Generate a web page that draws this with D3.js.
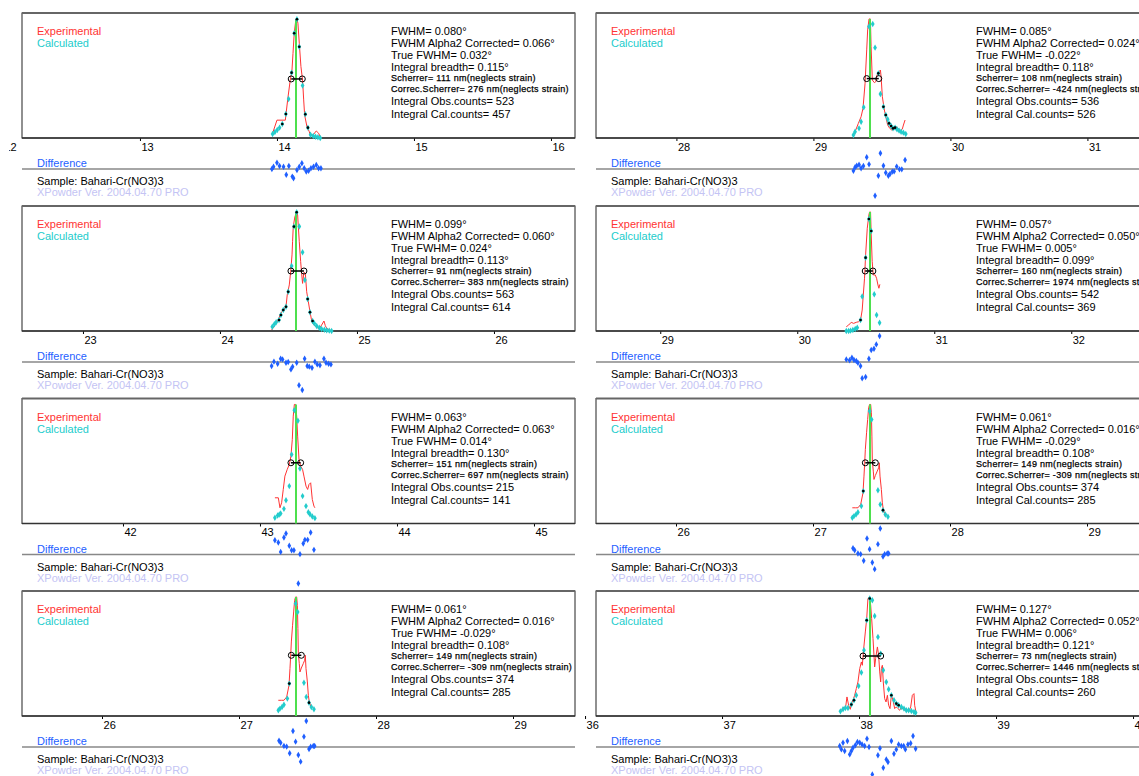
<!DOCTYPE html>
<html>
<head>
<meta charset="utf-8">
<script src="https://cdn.jsdelivr.net/npm/d3@7"></script>
<style>
  body { margin: 0; background: #fff; }
  svg { display: block; font-family: "Liberation Sans", Arial, sans-serif; }
</style>
</head>
<body>
<svg id="chart" width="1139" height="776"></svg>
<script>
// ---- data: [2theta, relative intensity %] ----
const exp14 = [[13.968,3.9],[14.000,15],[14.061,15],[14.078,32],[14.097,48.7],[14.109,55.7],[14.117,71],[14.126,88],[14.136,97.7],[14.146,100],[14.153,96.4],[14.163,79.6],[14.175,60],[14.187,48.7],[14.195,32],[14.202,19.3],[14.219,9.5],[14.236,5.3],[14.243,2.5],[14.263,2.5],[14.287,5.9],[14.304,4],[14.316,1.1]];
const cal14 = [[13.968,3.4],[13.985,5.0],[14.002,6.7],[14.019,8.7],[14.039,11.8],[14.065,20.2],[14.085,32.8],[14.107,54.9],[14.126,88],[14.146,99.7],[14.163,76.7],[14.187,44],[14.207,19.9],[14.226,8.7],[14.245,2.8],[14.265,1.7],[14.282,1.1],[14.299,0.6],[14.316,0]];
const dif14 = [[13.963,0],[13.975,1.9],[14.000,5.3],[14.019,2.5],[14.048,1.9],[14.068,-4.8],[14.087,2.5],[14.112,-6.4],[14.121,-7.8],[14.146,-0.8],[14.163,1.9],[14.182,4.8],[14.199,0.6],[14.214,-2.2],[14.231,-1.4],[14.248,0.6],[14.267,1.9],[14.287,3.4],[14.304,0.6],[14.321,0.6]];

const exp29 = [[29.292,2.5],[29.309,6.7],[29.328,12.3],[29.348,17.9],[29.362,24.9],[29.377,46],[29.389,74],[29.396,90.8],[29.406,100],[29.416,100],[29.421,76.7],[29.430,48.7],[29.445,46.5],[29.455,47.3],[29.464,52.9],[29.479,55.7],[29.489,57.1],[29.494,51.5],[29.503,34.7],[29.518,23.5],[29.528,17.9],[29.542,10.9],[29.557,8.1],[29.572,6.7],[29.591,7.3],[29.606,9.5],[29.620,7.6],[29.637,6.2],[29.649,7.6],[29.657,10.9],[29.669,15.1]];
const cal29 = [[29.292,2.5],[29.304,5.3],[29.333,8.1],[29.348,13.7],[29.367,25.8],[29.406,93.6],[29.433,95.8],[29.450,75.9],[29.474,54.3],[29.489,37],[29.511,26.3],[29.528,19.3],[29.542,15.7],[29.552,12.3],[29.567,10.1],[29.581,8.1],[29.596,8.7],[29.610,7.3],[29.625,6.2],[29.640,5.3],[29.657,4.5],[29.674,3.4]];
const dif29 = [[29.292,-1.4],[29.304,1.4],[29.316,2.8],[29.333,3.6],[29.348,0.6],[29.365,2.5],[29.389,9.8],[29.406,3.9],[29.450,-22.4],[29.474,-5.6],[29.489,13.2],[29.511,2.8],[29.528,-3.1],[29.547,-5.6],[29.559,-4.2],[29.576,-2.2],[29.589,-2.0],[29.608,2.0],[29.628,-0.3],[29.645,-0.3],[29.669,7.6]];

const exp24 = [[24.377,0.8],[24.401,5],[24.426,9.2],[24.443,14.8],[24.462,17.6],[24.482,20.4],[24.491,30.3],[24.506,38.7],[24.516,49.9],[24.526,63.9],[24.530,75],[24.535,87.7],[24.547,96],[24.560,100],[24.567,97.5],[24.572,87.7],[24.579,75],[24.589,58.3],[24.596,48.5],[24.603,40],[24.613,49.3],[24.623,48.5],[24.633,33],[24.645,24.6],[24.657,16.2],[24.667,10.1],[24.676,6.4],[24.693,4.5],[24.710,2.8],[24.725,2.2],[24.742,5],[24.759,8.4],[24.769,4.5],[24.779,2.2],[24.803,0.8],[24.815,0]];
const cal24 = [[24.382,3.6],[24.397,5.6],[24.410,7.3],[24.431,9.2],[24.445,13.4],[24.462,17.6],[24.482,20.4],[24.498,33],[24.523,54.6],[24.540,87.7],[24.560,99.7],[24.579,87.7],[24.603,66.1],[24.620,42.9],[24.640,26.9],[24.657,15.7],[24.676,8.4],[24.689,6.4],[24.706,4.2],[24.725,2.8],[24.742,1.7],[24.762,1.1],[24.779,0.6],[24.798,0.3],[24.815,0]];
const dif24 = [[24.377,-3.4],[24.394,0.3],[24.421,-1.4],[24.443,2.8],[24.457,2.2],[24.482,-0.6],[24.498,0],[24.518,-6.2],[24.530,-3.9],[24.560,-0.6],[24.577,-19.6],[24.601,-23.5],[24.618,2.8],[24.637,-3.4],[24.652,-3.9],[24.672,-4.8],[24.693,0.3],[24.710,-2],[24.730,-2.8],[24.759,2.8],[24.774,-0.6],[24.793,-1.4],[24.810,-2]];

const exp30 = [[30.358,3.6],[30.375,5],[30.394,7.3],[30.411,6.4],[30.431,7.3],[30.448,7.8],[30.462,9.2],[30.474,17.6],[30.482,30.3],[30.491,44.3],[30.499,63.9],[30.511,86.3],[30.523,97.5],[30.528,100],[30.535,100],[30.540,80.7],[30.547,58.3],[30.555,47.1],[30.569,47.1],[30.579,44.3],[30.589,38.7],[30.596,35.9],[30.603,39.2]];
const cal30 = [[30.358,0],[30.375,0],[30.389,0.3],[30.406,0.8],[30.423,1.7],[30.438,2.8],[30.462,9.2],[30.474,28.9],[30.499,61.6],[30.523,94.1],[30.540,84],[30.562,30.8],[30.579,13.4],[30.601,7]];
const dif30 = [[30.358,2.2],[30.382,1.4],[30.399,3.6],[30.414,1.7],[30.431,0.8],[30.443,-0.6],[30.462,-3.4],[30.474,-13.7],[30.499,-12.6],[30.523,2.8],[30.540,10.1],[30.560,11.2],[30.577,14.8],[30.601,21.8]];

const exp43 = [[43.109,21.6],[43.134,21.6],[43.146,13.2],[43.158,17.4],[43.170,28.6],[43.182,39.8],[43.199,45.4],[43.214,49.6],[43.226,56.6],[43.236,70.6],[43.243,90.2],[43.251,100],[43.260,100],[43.268,90.2],[43.275,73.4],[43.285,53.8],[43.297,48.2],[43.311,45.4],[43.321,39.8],[43.336,31.4],[43.348,28.6],[43.358,32.8],[43.370,34.2],[43.382,20.2],[43.394,14.6],[43.401,13.2]];
const cal43 = [[43.109,4.8],[43.129,6.7],[43.141,7.6],[43.151,8.4],[43.175,12.3],[43.190,19.6],[43.214,31.4],[43.231,58],[43.251,95.2],[43.277,86.3],[43.292,46.2],[43.311,23],[43.336,14.6],[43.353,9.5],[43.365,7.8],[43.382,5.9],[43.401,4.5]];
const dif43 = [[43.109,12],[43.134,10.1],[43.151,2.2],[43.175,14.3],[43.190,17.6],[43.214,7.3],[43.231,3.6],[43.248,3.6],[43.280,-24.4],[43.292,0.3],[43.316,9.2],[43.328,12.3],[43.348,12.3],[43.370,18.5],[43.394,3.9]];

const exp27 = [[27.287,13.2],[27.309,13.2],[27.328,13.2],[27.348,16],[27.365,25.8],[27.372,39.8],[27.377,50.4],[27.382,62.2],[27.391,76.2],[27.399,87.4],[27.406,97.2],[27.413,100],[27.421,100],[27.426,93],[27.430,73.4],[27.433,52.4],[27.440,44],[27.445,37],[27.455,40.3],[27.469,44],[27.479,46.8],[27.484,51],[27.489,39.8],[27.499,28.6],[27.506,17.4],[27.513,11.8],[27.523,8.4],[27.535,6.7]];
const cal27 = [[27.287,4.8],[27.299,6.2],[27.314,7.6],[27.328,9.5],[27.353,14.6],[27.367,27.2],[27.413,94.4],[27.428,87.4],[27.474,28],[27.491,16],[27.511,11.2],[27.528,7.6],[27.547,5.6]];
const dif27 = [[27.292,5.3],[27.304,3.6],[27.328,0.8],[27.348,0.3],[27.370,-5.3],[27.394,13.4],[27.413,4.5],[27.433,-6.7],[27.450,-12.3],[27.474,8.7],[27.491,21.8],[27.511,-1.7],[27.523,0.3],[27.542,0.8],[27.552,0.8]];

const exp38 = [[37.859,3.4],[37.876,5.6],[37.890,7.6],[37.900,5.6],[37.912,16],[37.924,9],[37.936,5.6],[37.944,10.4],[37.956,13.2],[37.968,17.4],[37.980,23],[37.992,28.6],[38.005,39.8],[38.017,45.4],[38.024,42.6],[38.034,56.6],[38.046,70.6],[38.056,81.8],[38.065,98.7],[38.078,100],[38.085,93],[38.092,81.8],[38.102,65],[38.114,41.2],[38.121,48.2],[38.134,58],[38.143,51],[38.151,37],[38.158,28.6],[38.163,39.8],[38.170,42.6],[38.177,28.6],[38.187,14.6],[38.197,11.8],[38.207,17.4],[38.216,9],[38.226,6.2],[38.236,17.4],[38.248,13.2],[38.260,6.2],[38.272,7.6],[38.284,6.2],[38.297,4.8],[38.309,7.6],[38.328,4.8],[38.345,6.2],[38.362,3.4],[38.377,7.6],[38.389,17.4],[38.401,18.8],[38.406,9],[38.418,2]];
const cal38 = [[37.864,3.9],[37.883,5.6],[37.900,6.7],[37.919,6.7],[37.944,9.6],[37.963,13.2],[37.980,17.4],[37.997,25.2],[38.017,36.5],[38.036,55.2],[38.056,80.4],[38.078,98.7],[38.097,97.2],[38.114,84],[38.138,66.4],[38.158,52.4],[38.177,38.4],[38.199,28.6],[38.216,22.4],[38.236,17.4],[38.255,13.2],[38.272,10.4],[38.289,9],[38.309,7.6],[38.328,6.2],[38.345,4.8],[38.362,4.8],[38.382,4.2],[38.401,3.4],[38.413,2.8]];
const dif38 = [[37.859,0.8],[37.871,-2],[37.883,3.6],[37.895,-3.4],[37.915,5],[37.932,-6.2],[37.944,-3.4],[37.956,-0.6],[37.973,1.4],[37.988,4.2],[38.005,3.6],[38.022,2.2],[38.041,0.8],[38.058,7],[38.073,0],[38.097,-23],[38.138,-7],[38.153,-1.1],[38.177,-17.4],[38.199,-10.4],[38.211,-12.6],[38.236,5],[38.255,-5.6],[38.272,-2],[38.289,2.2],[38.309,0.8],[38.326,0.8],[38.338,-2],[38.357,2.2],[38.377,3.1],[38.394,9.2],[38.413,-1.4]];

// one entry per peak (same order as the arrays below)
const expData = [exp14, exp29, exp24, exp30, exp43, exp27, exp38];
const calData = [cal14, cal29, cal24, cal30, cal43, cal27, cal38];
const difData = [dif14, dif29, dif24, dif30, dif43, dif27, dif38];
const peakPos = [14.139, 29.413, 24.555, 30.531, 43.263, 27.416, 38.080];
const halfLeft = [14.104, 29.389, 24.518, 30.496, 43.226, 27.382, 38.029];
const halfRight = [14.185, 29.477, 24.613, 30.552, 43.297, 27.455, 38.158];
const halfInt = [49.6, 49.9, 50.4, 50.4, 51, 51, 50.4];

const fwhm = ["0.080", "0.085", "0.099", "0.057", "0.063", "0.061", "0.127"];
const fwhmA2 = ["0.066", "0.024", "0.060", "0.050", "0.063", "0.016", "0.052"];
const trueFwhm = ["0.032", "-0.022", "0.024", "0.005", "0.014", "-0.029", "0.006"];
const breadth = ["0.115", "0.118", "0.113", "0.099", "0.130", "0.108", "0.121"];
const scherrer = ["111", "108", "91", "160", "151", "149", "73"];
const corrScherrer = ["276", "-424", "383", "1974", "697", "-309", "1446"];
const obsCounts = ["523", "536", "563", "542", "215", "374", "188"];
const calCounts = ["457", "526", "614", "369", "141", "285", "260"];

const sampleName = "Sample: Bahari-Cr(NO3)3";
const version = "XPowder Ver. 2004.04.70 PRO";

// panel grid: which peak goes in which cell
const panelPeak = [0, 1, 2, 3, 4, 5, 5, 6];

// ---- layout ----
const svg = d3.select("#chart");
const colLeft = [22, 596];
const plotW = 548;          // 4 degrees wide
const boxW = [553, 560];
const textOff = [369, 380];
const boxH = 125;
const rowBottom = [138, 331, 523.5, 716];

const red = "#ff3333", cyan = "#22cccc", green = "#4ee04e", blue = "#1f5fff";

// tick labels to the left of a box are cut by the window edge
svg.append("clipPath").attr("id", "edge").append("rect")
  .attr("x", 9).attr("y", 0).attr("width", 1139).attr("height", 776);

panelPeak.forEach((k, i) => {
  const col = i % 2, row = Math.floor(i / 2);
  const x0 = colLeft[col], bottom = rowBottom[row], top = bottom - boxH;
  const g = svg.append("g");

  const x = d3.scaleLinear().domain([peakPos[k] - 2, peakPos[k] + 2]).range([x0, x0 + plotW]);
  const y = d3.scaleLinear().domain([0, 105]).range([bottom, top]);
  const diffBase = bottom + 31;
  const yd = d3.scaleLinear().domain([0, 105]).range([diffBase, diffBase - boxH]);

  // frame
  g.append("rect").attr("x", x0).attr("y", top).attr("width", boxW[col]).attr("height", boxH)
    .attr("fill", "none").attr("stroke", "#222").attr("stroke-width", 1);
  g.append("line").attr("x1", x0).attr("x2", x0 + boxW[col]).attr("y1", top).attr("y2", top)
    .attr("stroke", "#666").attr("stroke-width", 2);

  // axis
  const lo = Math.ceil(peakPos[k] - 2.2), hi = Math.floor(peakPos[k] + 2);
  const axis = d3.axisBottom(x).tickValues(d3.range(lo, hi + 1)).tickSize(3).tickFormat(d3.format("d"));
  const ax = g.append("g").attr("transform", `translate(0,${bottom})`).attr("clip-path", "url(#edge)").call(axis);
  ax.select(".domain").remove();
  ax.selectAll("text").attr("text-anchor", "start").attr("x", 1).attr("y", 5)
    .attr("font-size", 11).attr("font-family", "Liberation Sans, Arial, sans-serif").attr("fill", "#000");
  ax.selectAll("line").attr("stroke", "#000");
  g.append("line").attr("x1", x0).attr("x2", x0 + boxW[col]).attr("y1", bottom).attr("y2", bottom)
    .attr("stroke", "#333").attr("stroke-width", 1.5);

  // legend
  g.append("text").attr("x", x0 + 15).attr("y", top + 22).attr("font-size", 11).attr("fill", red).text("Experimental");
  g.append("text").attr("x", x0 + 15).attr("y", top + 34).attr("font-size", 11).attr("fill", cyan).text("Calculated");

  // stats
  const lines = [
    ["FWHM= " + fwhm[k] + "°", 11, 22],
    ["FWHM Alpha2 Corrected= " + fwhmA2[k] + "°", 11, 34],
    ["True FWHM= " + trueFwhm[k] + "°", 11, 46],
    ["Integral breadth= " + breadth[k] + "°", 11, 58],
    ["Scherrer= " + scherrer[k] + " nm(neglects strain)", 9, 68],
    ["Correc.Scherrer= " + corrScherrer[k] + " nm(neglects strain)", 9, 79],
    ["Integral Obs.counts= " + obsCounts[k], 11, 92],
    ["Integral Cal.counts= " + calCounts[k], 11, 105]
  ];
  lines.forEach(l => {
    const small = l[1] < 10;
    g.append("text").attr("x", x0 + textOff[col]).attr("y", top + l[2])
      .attr("font-size", l[1]).attr("letter-spacing", small ? 0.3 : 0)
      .attr("stroke", small ? "#000" : "none").attr("stroke-width", 0.25)
      .attr("fill", "#000").text(l[0]);
  });

  // experimental profile
  g.append("path").datum(expData[k])
    .attr("d", d3.line().x(d => x(d[0])).y(d => y(d[1])))
    .attr("fill", "none").attr("stroke", red).attr("stroke-width", 1);

  // peak position
  g.append("line").attr("x1", x(peakPos[k])).attr("x2", x(peakPos[k]))
    .attr("y1", y(0)).attr("y2", y(d3.max(expData[k], d => d[1])))
    .attr("stroke", green).attr("stroke-width", 2);

  // calculated points
  const diamond = d3.symbol().type(d3.symbolDiamond).size(12);
  g.selectAll(".cal").data(calData[k]).join("path")
    .attr("transform", d => `translate(${x(d[0])},${y(d[1])})`)
    .attr("d", diamond).attr("fill", cyan);

  // black marks where calculated sits on the observed profile
  const bis = d3.bisector(d => d[0]).left;
  const obsAt = t => {
    const e = expData[k], j = Math.max(1, Math.min(e.length - 1, bis(e, t)));
    const a = e[j - 1], b = e[j];
    return a[1] + (b[1] - a[1]) * (t - a[0]) / (b[0] - a[0]);
  };
  g.selectAll(".hit").data(calData[k].filter(d => d[0] >= expData[k][0][0] && d[0] <= expData[k][expData[k].length - 1][0] && Math.abs(obsAt(d[0]) - d[1]) < 3.5 && d[1] > 8))
    .join("circle").attr("cx", d => x(d[0])).attr("cy", d => y(d[1])).attr("r", 1.3).attr("fill", "#000");

  // half-maximum marker
  g.append("line").attr("x1", x(halfLeft[k])).attr("x2", x(halfRight[k]))
    .attr("y1", y(halfInt[k])).attr("y2", y(halfInt[k])).attr("stroke", "#000").attr("stroke-width", 1.5);
  [halfLeft[k], halfRight[k]].forEach(v => {
    g.append("circle").attr("cx", x(v)).attr("cy", y(halfInt[k])).attr("r", 3)
      .attr("fill", "none").attr("stroke", "#000").attr("stroke-width", 1);
  });

  // difference
  g.append("text").attr("x", x0 + 15).attr("y", bottom + 29).attr("font-size", 11).attr("fill", blue).text("Difference");
  g.append("line").attr("x1", x0).attr("x2", x0 + boxW[col]).attr("y1", diffBase).attr("y2", diffBase)
    .attr("stroke", "#888").attr("stroke-width", 1.5);
  g.selectAll(".dif").data(difData[k]).join("path")
    .attr("transform", d => `translate(${x(d[0])},${yd(d[1])})`)
    .attr("d", diamond).attr("fill", blue);

  g.append("text").attr("x", x0 + 15).attr("y", bottom + 47).attr("font-size", 11).attr("fill", "#000").text(sampleName);
  g.append("text").attr("x", x0 + 15).attr("y", bottom + 58).attr("font-size", 11).attr("fill", "#c4c4f4").text(version);
});
</script>
</body>
</html>
